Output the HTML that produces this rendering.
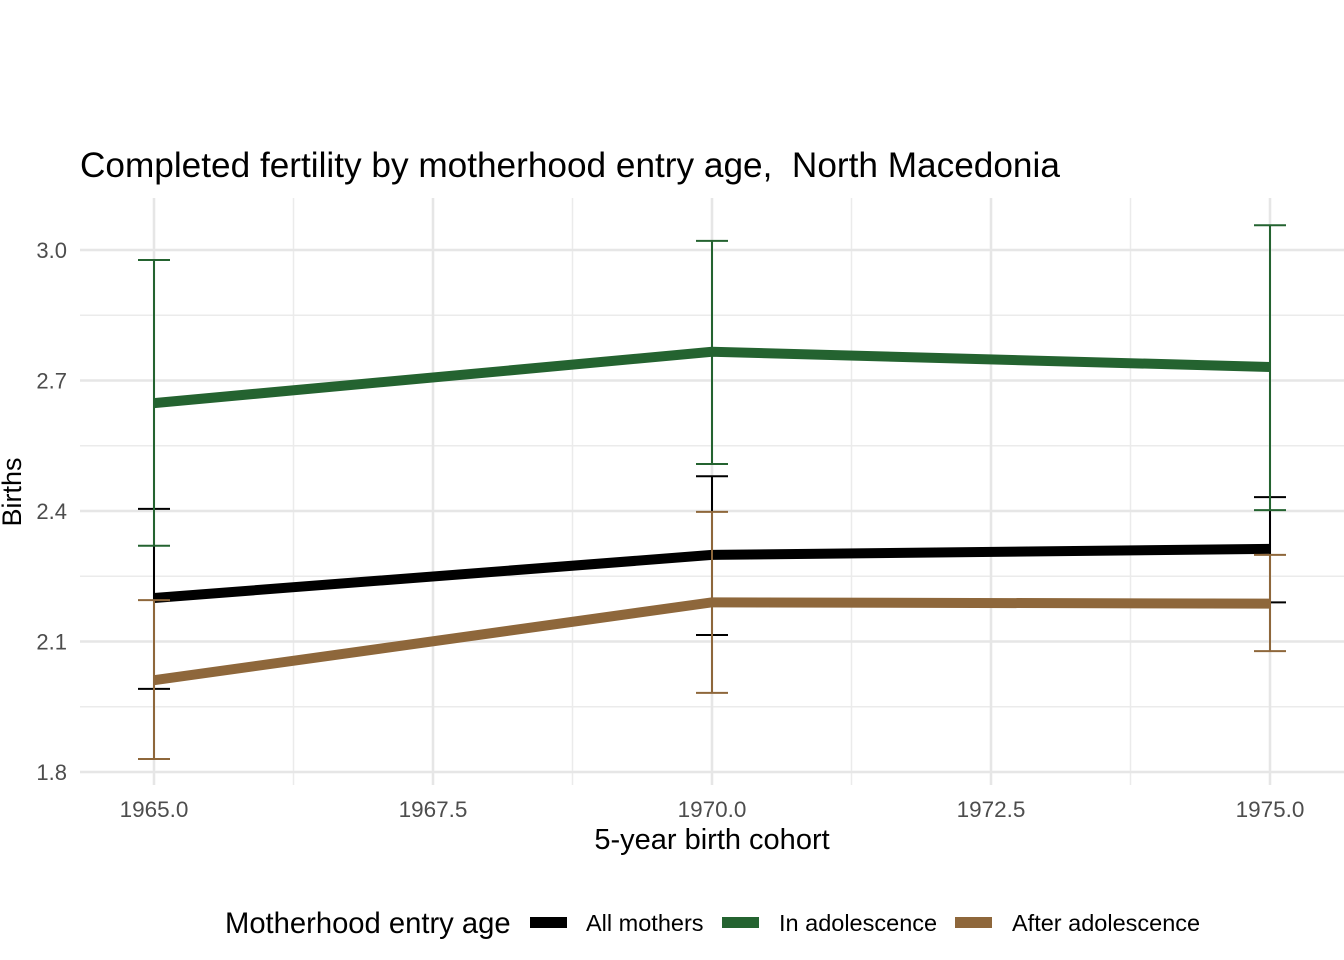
<!DOCTYPE html>
<html><head><meta charset="utf-8"><style>
body{margin:0;background:#fff;}
svg{display:block;font-family:"Liberation Sans",Arial,sans-serif;}
</style></head><body>
<svg id="chart" width="1344" height="960">
<text x="80" y="177" font-size="35.2" fill="#000" xml:space="preserve" style="white-space:pre">Completed fertility by motherhood entry age,  North Macedonia</text>
<g id="grid"></g>
<g id="ticks"></g>
<g id="series"></g>
<text x="712" y="849" font-size="29" text-anchor="middle">5-year birth cohort</text>
<text transform="translate(21,492) rotate(-90)" font-size="27" text-anchor="middle">Births</text>
<g>
<text x="225" y="933" font-size="29.2">Motherhood entry age</text>
<rect x="530" y="917" width="37" height="11" fill="#000"/>
<text x="586" y="931" font-size="23.5">All mothers</text>
<rect x="722" y="917" width="37" height="11" fill="#246330"/>
<text x="779" y="931" font-size="23.5">In adolescence</text>
<rect x="955" y="917" width="37" height="11" fill="#8e673b"/>
<text x="1012" y="931" font-size="23.5">After adolescence</text>
</g>
</svg>
<script>
const years=[1965,1970,1975];
const xTicks=[1965,1967.5,1970,1972.5,1975];
const yTicks=[1.8,2.1,2.4,2.7,3.0];
const allMean=[2.2,2.299,2.313];
const allLo=[1.991,2.115,2.19];
const allHi=[2.405,2.48,2.432];
const adolMean=[2.648,2.766,2.731];
const adolLo=[2.32,2.508,2.402];
const adolHi=[2.977,3.021,3.057];
const afterMean=[2.011,2.19,2.187];
const afterLo=[1.83,1.982,2.078];
const afterHi=[2.195,2.398,2.299];

const X=v=>154+(v-1965)*(1270-154)/10;
const Y=v=>772-(v-1.8)*(772-250)/1.2;
const NS='http://www.w3.org/2000/svg';
function mk(tag,attrs,parent){const e=document.createElementNS(NS,tag);for(const k in attrs)e.setAttribute(k,attrs[k]);parent.appendChild(e);return e;}
const grid=document.getElementById('grid'),ticks=document.getElementById('ticks'),ser=document.getElementById('series');
const L=80,R=1344,T=198,B=785;
for(let i=0;i<yTicks.length-1;i++){const m=(yTicks[i]+yTicks[i+1])/2;
 const g=mk('line',{x1:L,x2:R,y1:Y(m),y2:Y(m),stroke:'#ebebeb','stroke-width':1.5},grid);
 }
for(let i=0;i<xTicks.length-1;i++){const m=(xTicks[i]+xTicks[i+1])/2;
 const g=mk('line',{x1:X(m),x2:X(m),y1:T,y2:B,stroke:'#ebebeb','stroke-width':1.5},grid);
 }
yTicks.forEach(v=>{const g=mk('line',{x1:L,x2:R,y1:Y(v),y2:Y(v),stroke:'#e6e6e6','stroke-width':2.5},grid);
 
 const t=mk('text',{x:67,y:Y(v)+8,'font-size':22,'text-anchor':'end',fill:'#4d4d4d'},ticks);t.textContent=v.toFixed(1);
 });
xTicks.forEach(v=>{const g=mk('line',{x1:X(v),x2:X(v),y1:T,y2:B,stroke:'#e6e6e6','stroke-width':2.5},grid);
 
 const t=mk('text',{x:X(v),y:817,'font-size':22.5,'text-anchor':'middle',fill:'#4d4d4d'},ticks);t.textContent=v.toFixed(1);
 });
function series(mean,lo,hi,color,name){
 const pts=years.map((y,i)=>X(y)+','+Y(mean[i])).join(' ');
 const p=mk('polyline',{points:pts,fill:'none',stroke:color,'stroke-width':10},ser);
 
 years.forEach((y,i)=>{const x=X(y);
  const g=mk('path',{d:`M${x-16},${Y(hi[i])}H${x+16}M${x},${Y(hi[i])}V${Y(lo[i])}M${x-16},${Y(lo[i])}H${x+16}`,stroke:color,'stroke-width':2,fill:'none'},ser);
  });
}
series(allMean,allLo,allHi,'#000000','all-mothers');
series(adolMean,adolLo,adolHi,'#246330','in-adolescence');
series(afterMean,afterLo,afterHi,'#8e673b','after-adolescence');
</script>
</body></html>
